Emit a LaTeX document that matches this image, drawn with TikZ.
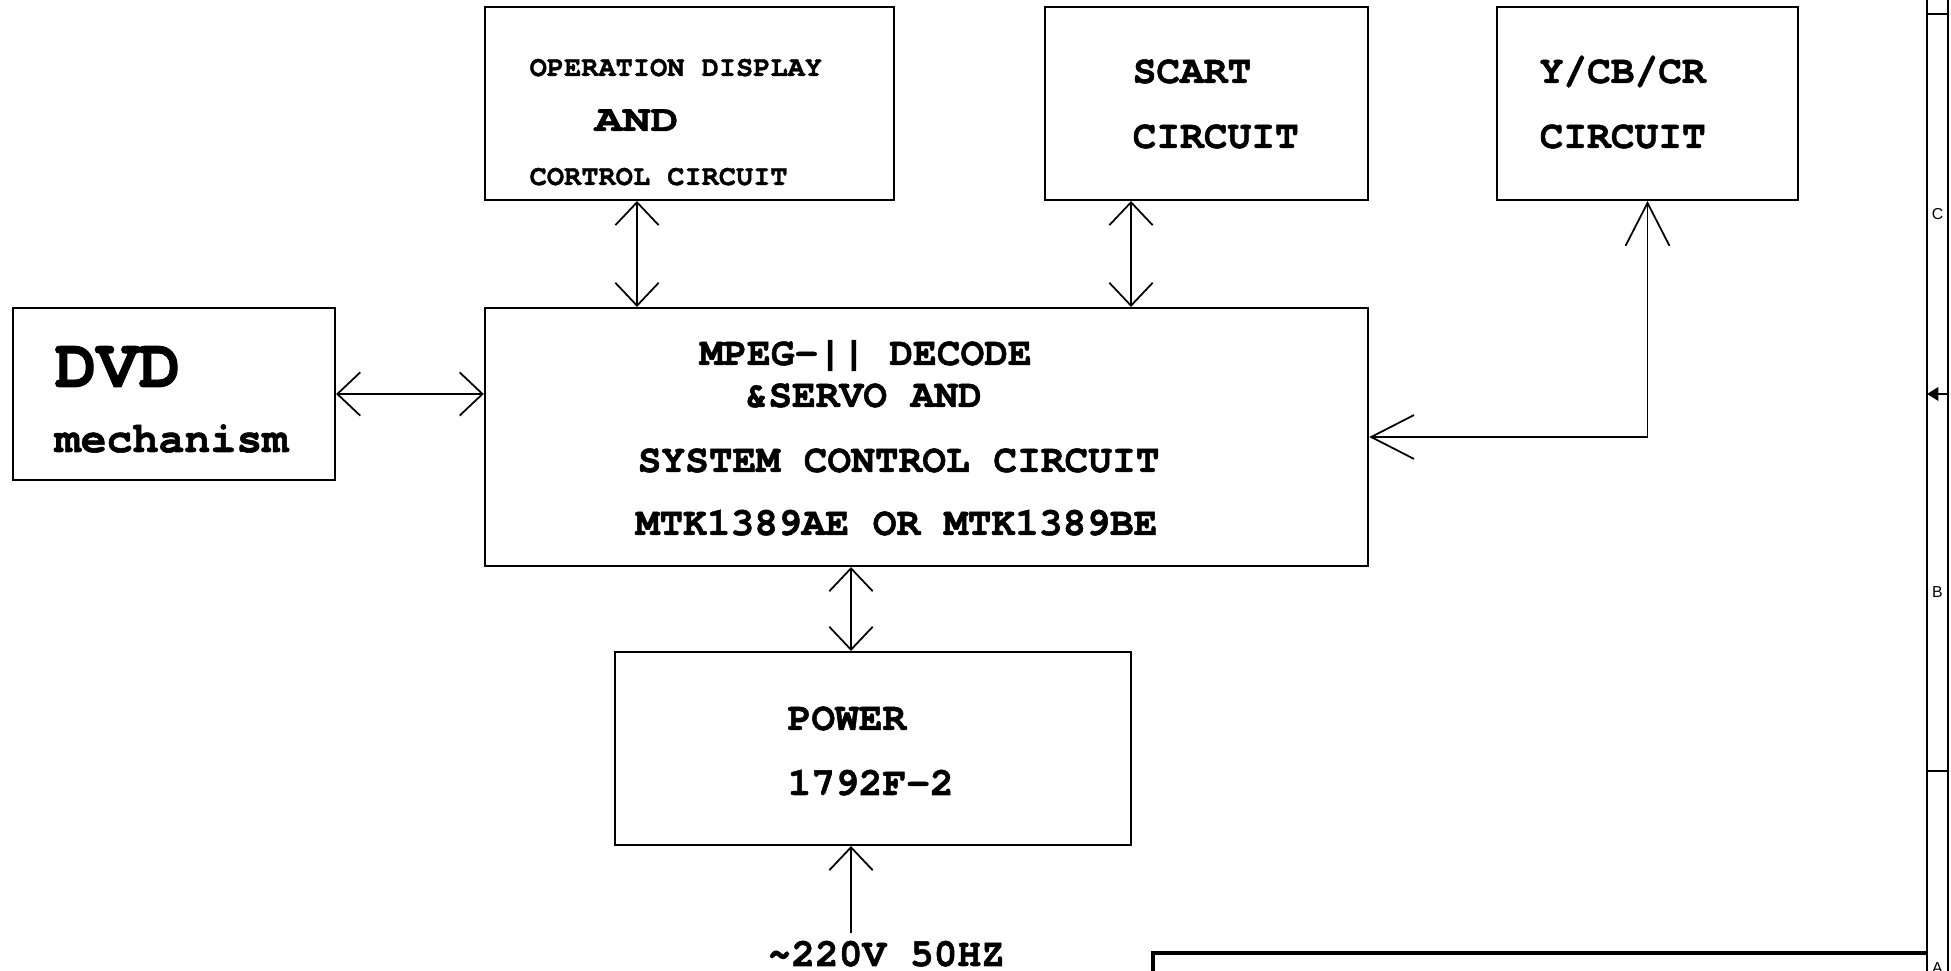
\documentclass[tikz,border=0pt]{standalone}
\usepackage{fontspec}
\newfontfamily\courier[Extension = .otf, UprightFont = *-regular, BoldFont = *-bold, BoldFeatures = {FakeBold = 1.3}]{texgyrecursor}
\setsansfont{Liberation Sans}
\usepackage{tikz}
\usetikzlibrary{arrows.meta, calc, positioning}
\newcommand{\bus}[3]
{
	\draw[link] (#2.south -| #1) -- (#3.north -| #1)
}

\begin{document}
\begin{tikzpicture}[x = 0.01cm, y = -0.01cm,
	box/.style = {shape = rectangle, draw = black, line width = 0.55pt, inner sep = 0pt},
	txt/.style = {anchor = base west, inner sep = 0pt, font = \courier\bfseries\fontsize{11.24}{13}\selectfont},
	txtsmall/.style = {txt, font = \courier\bfseries\fontsize{8.15}{9}\selectfont},
	zone/.style = {inner sep = 0pt, font = \sffamily\fontsize{4.5}{5}\selectfont},
	link/.style = {line width = 0.5pt, <->, >={Straight Barb[length = 6.5pt, width = 12.3pt]}},
	longlink/.style = {link, >={Straight Barb[length = 12.2pt, width = 12.5pt]}},
	inlink/.style = {link, ->}]

	\useasboundingbox (0, 0) rectangle (1951, 971);

	\node[box, minimum width = 4.09cm, minimum height = 1.93cm] at (689.5, 103.5) (op){};
	\node[box, minimum width = 3.23cm, minimum height = 1.93cm] at (1206.5, 103.5) (scart){};
	\node[box, minimum width = 3.01cm, minimum height = 1.93cm] at (1647.5, 103.5) (ycb){};
	\node[box, minimum width = 3.22cm, minimum height = 1.72cm] at (174, 394) (dvd){};
	\node[box, minimum width = 8.83cm, minimum height = 2.58cm] at (926.5, 437) (mpeg){};
	\node[box, minimum width = 5.16cm, minimum height = 1.93cm] at (873, 748.5) (power){};

	\node[txtsmall] at (529, 76) (op1){OPERATION DISPLAY};
	\node[txt, font = \courier\bfseries\fontsize{10.6}{12}\selectfont] at (594, 131) (op2){\scalebox{1.25}[1]{AND}};
	\node[txtsmall] at (529, 185) (op3){CORTROL CIRCUIT};
	\node[txt] at (1132, 83) (sc1){SCART};
	\node[txt] at (1132, 148) (sc2){CIRCUIT};
	\node[txt] at (1539, 83) (yc1){Y/CB/CR};
	\node[txt] at (1539, 148) (yc2){CIRCUIT};
	\node[txt, font = \courier\bfseries\fontsize{19.9}{22}\selectfont] at (54, 387) (dv1){DVD};
	\node[txt, font = \courier\bfseries\fontsize{12.3}{14}\selectfont] at (54, 452) (dv2){mechanism};
	\node[txt] at (699, 365) (mp1){MPEG-|| DECODE};
	\node[txt] at (744, 407) (mp2){\&SERVO AND};
	\node[txt] at (637, 472) (mp3){SYSTEM CONTROL CIRCUIT};
	\node[txt] at (635, 535) (mp4){MTK1389AE OR MTK1389BE};
	\node[txt] at (787, 730) (pw1){POWER};
	\node[txt] at (787, 795) (pw2){1792F-2};
	\node[txt] at (767, 966) (mains){\textasciitilde220V 50HZ};

	\coordinate (xop) at (637, 0);
	\coordinate (xsc) at (1131, 0);
	\coordinate (xpw) at (851, 0);
	\coordinate (ac) at (851, 933);
	\bus{xop}{op}{mpeg};
	\bus{xsc}{scart}{mpeg};
	\bus{xpw}{mpeg}{power};
	\draw[link] (dvd.east) -- (dvd.east -| mpeg.west);
	\draw[longlink] (mpeg.east) -| (ycb.south);
	\draw[inlink] (ac) -- (power.south -| ac);

	\draw[line width = 0.55pt] (1927, 0) -- (1927, 971);
	\draw[line width = 0.55pt] (1948, 0) -- (1948, 971);
	\draw[line width = 0.55pt] (1927, 14) -- (1948, 14);
	\draw[line width = 0.55pt] (1927, 771) -- (1948, 771);
	\draw[line width = 0.55pt, -{Triangle[length = 3.2pt, width = 3.8pt]}] (1948, 394) -- (1927, 394);
	\draw[line width = 1.1pt] (1153, 971) -- (1153, 953) -- (1927, 953);
	\node[zone] at (1937.5, 214) (zc){C};
	\node[zone] at (1937.5, 592) (zb){B};
	\node[zone] at (1937.5, 968) (za){A};
\end{tikzpicture}
\end{document}
